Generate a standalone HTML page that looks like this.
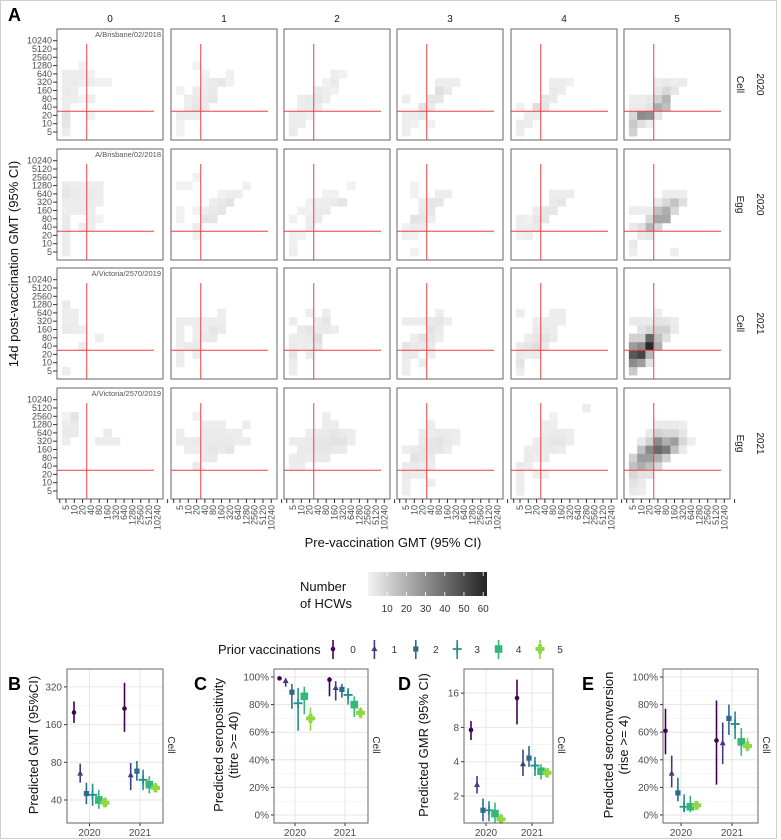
<!DOCTYPE html>
<html><head><meta charset="utf-8"><style>
html,body{margin:0;padding:0;background:#fff;}
svg{display:block;font-family:"Liberation Sans",sans-serif;}
</style></head><body>
<svg id="fig" width="781" height="840" viewBox="0 0 781 840" xmlns="http://www.w3.org/2000/svg">
<rect x="0.5" y="0.5" width="776" height="838" fill="#fff" stroke="#cfcfcf"/>
</svg>
<script>
// ===== Panel A data =====
const titreLabels = ["5","10","20","40","80","160","320","640","1280","2560","5120","10240"];
const colLabels = ["0","1","2","3","4","5"];
const rowTypes = ["Cell","Egg","Cell","Egg"];
const rowYears = ["2020","2020","2021","2021"];
const rowStrains = ["A/Brisbane/02/2018","A/Brisbane/02/2018","A/Victoria/2570/2019","A/Victoria/2570/2019"];
const legendTicks = [10,20,30,40,50,60];
// cells: [preIndex, postIndex, count]
const cellsR0 = [
 [[0,0,2],[0,1,4],[0,2,5],[0,3,2],[0,4,2],[0,5,3],[0,6,2],[0,7,2],[1,4,2],[1,5,2],[1,6,3],[1,7,2],[2,4,1],[2,6,2],[2,7,2],[2,8,1],[3,2,1],[3,4,2],[3,6,2],[3,7,1],[4,6,1],[5,6,1]],
 [[0,0,1],[0,1,1],[0,2,2],[1,2,2],[2,2,2],[1,3,2],[2,3,4],[3,3,3],[0,5,1],[1,4,2],[2,4,3],[3,4,3],[4,4,4],[2,5,2],[3,5,2],[4,5,3],[3,6,2],[4,6,3],[5,6,4],[6,6,1],[2,8,1],[6,7,1],[3,7,1]],
 [[0,0,3],[0,1,2],[1,1,2],[0,2,2],[1,2,2],[2,2,1],[1,3,2],[2,3,3],[3,3,2],[1,4,2],[2,4,3],[3,4,4],[4,4,2],[3,5,3],[4,5,2],[5,5,1],[4,6,1],[5,6,3],[5,7,2],[6,7,1]],
 [[0,0,2],[0,1,2],[1,1,1],[0,2,2],[1,2,2],[2,2,3],[2,3,5],[3,3,3],[0,4,2],[3,4,4],[4,4,4],[4,5,6],[5,5,3],[4,6,2],[5,6,2],[6,6,2],[3,1,1]],
 [[0,0,2],[0,1,3],[1,1,2],[1,2,2],[2,2,2],[2,3,6],[3,3,4],[0,3,1],[3,4,4],[4,4,3],[4,5,3],[5,5,2],[4,6,2],[5,6,2],[6,6,1]],
 [[0,0,10],[0,1,12],[1,1,6],[2,1,2],[0,2,8],[1,2,30],[2,2,28],[3,2,4],[0,3,3],[1,3,3],[2,3,5],[3,3,20],[4,3,15],[0,4,2],[1,4,2],[2,4,3],[3,4,10],[4,4,18],[3,5,4],[4,5,8],[5,5,4],[3,6,2],[4,6,3],[5,6,2],[6,6,3]]
];
const cellsR1 = [
 [[0,0,2],[0,1,2],[0,2,2],[0,3,3],[0,4,3],[0,5,2],[0,6,2],[0,7,4],[0,8,3],[1,5,2],[1,6,2],[1,7,3],[1,8,2],[2,5,2],[2,6,2],[2,7,2],[2,8,2],[3,3,2],[3,4,2],[3,5,2],[3,6,2],[3,7,3],[3,8,2],[4,6,2],[4,7,2],[4,8,2],[2,3,2],[4,4,1]],
 [[0,4,1],[0,5,1],[0,8,1],[1,8,1],[2,3,2],[2,2,1],[2,5,1],[3,4,5],[3,5,2],[4,4,4],[4,5,3],[4,6,2],[5,5,4],[5,6,3],[6,6,5],[6,7,2],[7,7,2],[5,7,1],[2,9,1],[8,8,1]],
 [[0,0,2],[0,1,1],[0,2,1],[1,2,1],[2,3,2],[0,4,1],[2,4,2],[3,4,3],[3,5,3],[4,5,3],[2,6,1],[3,6,2],[4,6,2],[5,6,3],[6,6,4],[4,7,1],[5,7,1],[7,8,1],[1,5,1],[2,5,1]],
 [[0,2,1],[1,2,1],[0,3,1],[1,3,2],[2,3,2],[1,4,5],[2,4,4],[3,4,2],[2,5,3],[3,5,4],[3,6,4],[4,6,4],[4,7,2],[5,7,2],[1,8,1],[2,6,2],[1,0,1],[1,7,1]],
 [[0,2,1],[0,3,2],[1,2,2],[1,3,2],[2,3,3],[2,4,4],[3,4,4],[3,5,4],[4,5,4],[4,6,3],[5,6,4],[4,7,2],[5,7,2],[6,7,2],[2,5,2],[0,4,2],[1,4,1]],
 [[0,0,2],[0,1,3],[1,2,3],[2,2,4],[2,3,18],[1,3,6],[0,3,3],[3,3,8],[3,4,22],[4,4,22],[2,4,8],[3,5,15],[4,5,20],[5,5,8],[4,6,8],[5,6,14],[6,6,6],[3,6,3],[4,7,2],[5,7,2],[6,7,2],[0,5,2],[1,5,2],[2,5,2],[5,0,2]]
];
const cellsR2 = [
 [[0,0,2],[0,5,3],[0,6,2],[0,7,2],[0,8,3],[1,5,2],[1,6,2],[1,7,2],[2,5,2],[2,3,2],[4,4,2]],
 [[0,1,2],[0,2,2],[0,3,2],[0,4,2],[0,5,2],[0,6,2],[1,3,3],[1,6,2],[2,2,2],[2,3,3],[2,4,2],[2,5,2],[2,6,2],[3,4,3],[3,5,2],[3,6,2],[4,4,3],[4,5,4],[5,5,3],[5,6,2],[5,7,2],[4,6,2]],
 [[0,0,2],[0,1,2],[0,2,4],[0,3,3],[0,4,2],[0,6,2],[1,3,2],[1,4,2],[1,5,3],[2,2,2],[2,3,2],[2,4,3],[2,5,4],[2,7,2],[3,3,4],[3,4,6],[3,5,3],[3,6,2],[4,5,3],[4,6,4],[5,5,2],[4,7,2]],
 [[0,1,2],[0,2,3],[1,2,3],[2,1,2],[0,3,4],[1,3,3],[2,3,3],[3,3,3],[2,4,5],[3,4,4],[1,4,2],[3,5,5],[4,5,3],[4,4,2],[0,6,2],[1,6,2],[2,6,2],[3,6,3],[4,6,4],[5,6,2],[4,7,2],[0,0,2],[3,2,2]],
 [[0,0,2],[0,1,5],[0,2,3],[1,2,2],[2,2,3],[0,3,3],[1,3,4],[2,3,6],[3,3,3],[1,4,2],[2,4,4],[3,4,5],[4,4,3],[2,5,3],[3,5,3],[4,5,2],[2,6,2],[3,6,2],[4,6,2],[5,6,2],[0,7,2],[4,7,2],[5,7,2]],
 [[0,0,12],[0,1,30],[1,1,25],[2,1,5],[0,2,45],[1,2,50],[2,2,18],[0,3,25],[1,3,30],[2,3,58],[3,3,20],[0,4,10],[1,4,10],[2,4,40],[3,4,15],[2,5,8],[3,5,10],[4,5,10],[0,6,3],[1,6,3],[2,6,3],[3,6,5],[4,6,4],[5,6,2],[3,7,2],[4,4,6],[1,5,5],[5,5,3]]
];
const cellsR3 = [
 [[0,7,3],[0,8,2],[0,6,2],[1,7,3],[1,8,3],[1,9,5],[0,9,1],[5,7,3],[4,6,2],[5,6,2],[6,6,2]],
 [[0,6,2],[0,7,2],[1,6,2],[1,5,2],[2,5,2],[2,3,3],[2,9,1],[2,6,3],[3,5,3],[3,6,3],[3,7,3],[3,8,2],[4,4,3],[4,5,4],[4,6,3],[4,7,3],[4,8,2],[5,5,3],[5,6,3],[5,7,3],[5,8,2],[6,5,4],[6,6,3],[6,7,2],[7,6,2],[7,7,2],[8,6,2],[8,8,2],[3,4,3]],
 [[0,3,2],[0,4,2],[0,6,2],[1,3,2],[1,4,3],[1,5,3],[1,6,2],[2,4,2],[2,5,3],[2,6,3],[3,4,3],[3,5,4],[3,6,4],[3,7,3],[4,4,3],[4,5,4],[4,6,4],[4,7,3],[4,8,2],[4,9,2],[5,5,3],[5,6,5],[5,7,4],[5,8,2],[6,5,3],[6,6,5],[6,7,3],[7,6,2],[7,7,2],[2,7,2]],
 [[0,0,2],[0,1,2],[0,2,3],[0,3,3],[1,2,2],[1,3,3],[1,4,5],[2,4,4],[2,5,4],[2,6,3],[1,5,3],[0,5,2],[3,3,2],[3,4,3],[3,5,4],[3,6,4],[3,7,2],[3,8,2],[4,5,4],[4,6,5],[4,7,3],[5,6,3],[5,7,3],[5,5,2],[6,6,2],[6,7,2],[2,7,2],[2,3,2],[2,2,2],[3,1,2]],
 [[0,0,2],[0,1,2],[0,2,2],[0,3,3],[1,3,2],[1,4,3],[2,4,2],[2,5,3],[1,5,2],[2,6,2],[2,2,2],[3,4,3],[3,5,3],[3,6,3],[3,7,2],[3,8,2],[4,5,3],[4,6,4],[4,7,3],[4,8,2],[5,5,2],[5,6,4],[5,7,3],[6,6,2],[6,7,2],[4,9,1],[8,10,2],[3,2,1]],
 [[0,0,3],[0,1,5],[0,2,8],[0,3,15],[0,4,10],[1,1,3],[1,2,5],[1,3,20],[1,4,25],[1,5,15],[2,2,5],[2,3,15],[2,4,25],[2,5,30],[2,6,10],[3,3,8],[3,4,20],[3,5,40],[3,6,30],[3,7,10],[4,4,10],[4,5,35],[4,6,20],[4,7,8],[5,5,15],[5,6,25],[5,7,8],[6,6,8],[6,7,4],[5,8,3],[3,8,3],[4,8,3],[6,5,3],[7,6,2],[6,8,2],[2,7,3],[1,6,3],[1,0,2]]
];
const allCells = [cellsR0, cellsR1, cellsR2, cellsR3];

// ===== Panels B-E data =====
const years = ["2020","2021"];
const groups = ["0","1","2","3","4","5"];
const gmtEst = [[200,65,45,44,40,38],[215,63,68,58,53,50]];
const gmtLo  = [[165,55,37,36,34,35],[140,48,57,48,45,46]];
const gmtHi  = [[245,78,55,54,48,42],[345,79,82,70,62,55]];
const seropEst = [[99,97,89,81,86,70],[98,92,91,87,80,74]];
const seropLo  = [[98,93,77,61,73,61],[86,83,85,80,71,70]];
const seropHi  = [[100,99,95,92,93,78],[100,97,95,92,86,78]];
const gmrEst = [[7.6,2.5,1.5,1.5,1.4,1.25],[14.5,3.8,4.3,3.7,3.3,3.2]];
const gmrLo  = [[6.2,2.1,1.2,1.2,1.15,1.15],[8.5,3.0,3.6,3.0,2.8,2.9]];
const gmrHi  = [[9.1,3.0,1.9,1.8,1.75,1.4],[21,5.1,5.5,4.4,3.8,3.5]];
const convEst = [[61,30,16,6,6,7],[54,52,70,66,53,50]];
const convLo  = [[44,20,10,2,2,4],[22,37,58,55,43,46]];
const convHi  = [[77,43,27,15,14,10],[83,67,80,75,63,56]];
const gmtTicks = [40,80,160,320];
const gmrTicks = [2,4,8,16];
const pctTicks = [0,20,40,60,80,100];

const NS = "http://www.w3.org/2000/svg";
const svg = document.getElementById("fig");
function mk(tag, attrs, parent, text){
  const e = document.createElementNS(NS, tag);
  for (const k in attrs) e.setAttribute(k, attrs[k]);
  if (text !== undefined) e.textContent = text;
  (parent || svg).appendChild(e);
  return e;
}
const colors = ["#440154","#443A83","#31688E","#21908C","#35B779","#8FD744"];
function shade(n){ const v = Math.round(Math.max(35, 244 - n*3.5)); return "rgb("+v+","+v+","+v+")"; }

// ===== Panel A =====
const panelLefts = [57,171,284,397,511,624];
const panelTops = [29,149,268,388];
const PW = 106, PH = 111, STEP = 8.3;
let t = mk("text",{x:8,y:21,"font-size":18,"font-weight":"bold"},svg,"A");


colLabels.forEach((c,ci)=>{
  const e = mk("text",{x:panelLefts[ci]+PW/2,y:22,"font-size":10,fill:"#1a1a1a","text-anchor":"middle"},svg,c);
  
  
});
for (let r=0;r<4;r++){
  const top = panelTops[r];
  const cy = top + PH/2;
  const s1 = mk("text",{x:0,y:0,"font-size":10,fill:"#1a1a1a","text-anchor":"middle",transform:"translate(737,"+cy+") rotate(90)"},svg,rowTypes[r]);
  
  
  const s2 = mk("text",{x:0,y:0,"font-size":10,fill:"#1a1a1a","text-anchor":"middle",transform:"translate(757,"+cy+") rotate(90)"},svg,rowYears[r]);
  
  
  for (let c=0;c<6;c++){
    const left = panelLefts[c];
    const g = mk("g",{},svg);
    
    
    const xOf = i => left + 9 + i*STEP;
    const yOf = i => top + 103 - i*STEP;
    allCells[r][c].forEach(cell=>{
      const rc = mk("rect",{x:xOf(cell[0])-STEP/2,y:yOf(cell[1])-STEP/2,width:STEP+0.3,height:STEP+0.3,fill:shade(cell[2])},g);
      
      
    });
    const th = 2.5;
    const vl = mk("line",{x1:xOf(th),x2:xOf(th),y1:yOf(10.6),y2:top+PH,stroke:"#f04040","stroke-width":1},g);
    
    
    const hl = mk("line",{x1:left,x2:xOf(10.6),y1:yOf(th),y2:yOf(th),stroke:"#f04040","stroke-width":1},g);
    
    
    const bd = mk("rect",{x:left,y:top,width:PW,height:PH,fill:"none",stroke:"#666","stroke-width":1},g);
    
    
    if (c===0){
      const st = mk("text",{x:left+PW-2,y:top+8,"font-size":7.5,fill:"#555","text-anchor":"end"},g,rowStrains[r]);
      
      
      titreLabels.forEach((lb,i)=>{
        mk("line",{x1:left-4,x2:left,y1:yOf(i),y2:yOf(i),stroke:"#333","stroke-width":1},g);
        const tl = mk("text",{x:left-5,y:yOf(i)+3,"font-size":9,fill:"#4d4d4d","text-anchor":"end"},g,lb);
        
        
      });
    }
    if (r===3){
      titreLabels.forEach((lb,i)=>{
        mk("line",{x1:xOf(i),x2:xOf(i),y1:top+PH,y2:top+PH+4,stroke:"#333","stroke-width":1},g);
        const tl = mk("text",{x:0,y:0,"font-size":9,fill:"#4d4d4d","text-anchor":"end",transform:"translate("+(xOf(i)+3)+","+(top+PH+6)+") rotate(-90)"},g,lb);
        
        
      });
      [-1,12].forEach(i=>mk("line",{x1:xOf(i)+2,x2:xOf(i)+2,y1:top+PH,y2:top+PH+4,stroke:"#333","stroke-width":1},g));
    }
  }
}
t = mk("text",{x:0,y:0,"font-size":13,fill:"#111","text-anchor":"middle",transform:"translate(18,264) rotate(-90)"},svg,"14d post-vaccination GMT (95% CI)");


t = mk("text",{x:393,y:547,"font-size":13,fill:"#111","text-anchor":"middle"},svg,"Pre-vaccination GMT (95% CI)");



// Color legend
t = mk("text",{x:300,y:591,"font-size":13,fill:"#111"},svg,"Number");


mk("text",{x:300,y:608,"font-size":13,fill:"#111"},svg,"of HCWs");
const defs = mk("defs",{},svg);
const lg = mk("linearGradient",{id:"gr",x1:"0",x2:"1",y1:"0",y2:"0"},defs);
mk("stop",{offset:"0","stop-color":shade(0)},lg);
mk("stop",{offset:"1","stop-color":shade(62)},lg);
const barX0 = 368, barW = 119, legMax = 62;
t = mk("rect",{x:barX0,y:572,width:barW,height:24,fill:"url(#gr)"},svg);


legendTicks.forEach(v=>{
  const x = barX0 + v/legMax*barW;
  mk("line",{x1:x,x2:x,y1:572,y2:576,stroke:"#fff","stroke-width":0.8},svg);
  mk("line",{x1:x,x2:x,y1:592,y2:596,stroke:"#fff","stroke-width":0.8},svg);
  const e = mk("text",{x:x,y:612,"font-size":10,fill:"#333","text-anchor":"middle"},svg,String(v));
  
  
});

// symbol drawing
function symbol(k, x, y, parent){
  const col = colors[k];
  if (k===0) return mk("circle",{cx:x,cy:y,r:2.3,fill:col},parent);
  if (k===1) return mk("polygon",{points:(x)+","+(y-3.5)+" "+(x-3)+","+(y+2)+" "+(x+3)+","+(y+2),fill:col},parent);
  if (k===2) return mk("rect",{x:x-2.6,y:y-2.6,width:5.2,height:5.2,fill:col},parent);
  if (k===3) return mk("path",{d:"M"+(x-4.5)+" "+y+"H"+(x+4.5)+"M"+x+" "+(y-4.5)+"V"+(y+4.5),stroke:col,"stroke-width":1.8},parent);
  if (k===4) return mk("rect",{x:x-3.8,y:y-3.8,width:7.6,height:7.6,fill:col},parent);
  return mk("path",{d:"M"+(x-2)+" "+(y-4.5)+"h4v2.5h2.5v4h-2.5v2.5h-4v-2.5h-2.5v-4h2.5z",fill:col},parent);
}

// Prior vaccination legend
t = mk("text",{x:218,y:654,"font-size":13,fill:"#111"},svg,"Prior vaccinations");


groups.forEach((gname,k)=>{
  const x = 333 + k*41.4;
  const g = mk("g",{},svg);
  
  
  mk("line",{x1:x,x2:x,y1:640,y2:659,stroke:colors[k],"stroke-width":1.6},g);
  symbol(k,x,649,g);
  mk("text",{x:x+20,y:653,"font-size":10,fill:"#333","text-anchor":"middle"},g,gname);
});

// Small panels
function smallPanel(opt){
  const g = mk("g",{},svg);
  
  
  const L=opt.left,R=opt.right,T=669,B=823;
  mk("rect",{x:L,y:T,width:R-L,height:B-T,fill:"#fff"},g);
  opt.ticks.forEach((v,i)=>{
    const y = opt.y(v);
    if (i<opt.ticks.length-1){
      const ym=(y+opt.y(opt.ticks[i+1]))/2;
      mk("line",{x1:L,x2:R,y1:ym,y2:ym,stroke:"#f2f2f2","stroke-width":0.6},g);
    }
    mk("line",{x1:L,x2:R,y1:y,y2:y,stroke:"#e6e6e6","stroke-width":1},g);
    mk("line",{x1:L-3,x2:L,y1:y,y2:y,stroke:"#333","stroke-width":1},g);
    const tl = mk("text",{x:L-5,y:y+3.5,"font-size":10,fill:"#4d4d4d","text-anchor":"end"},g,opt.fmt(v));
    
    
  });
  years.forEach((yr,yi)=>{
    const xc = opt.xYear[yi];
    mk("line",{x1:xc,x2:xc,y1:T,y2:B,stroke:"#e6e6e6","stroke-width":1},g);
    mk("line",{x1:xc,x2:xc,y1:B,y2:B+3,stroke:"#333","stroke-width":1},g);
    const tl = mk("text",{x:xc,y:B+13,"font-size":10,fill:"#4d4d4d","text-anchor":"middle"},g,yr);
    
    
    groups.forEach((gn,k)=>{
      const x = xc + (k-2.5)*opt.dodge;
      const eb = mk("line",{x1:x,x2:x,y1:opt.y(opt.hi[yi][k]),y2:opt.y(opt.lo[yi][k]),stroke:colors[k],"stroke-width":1.6},g);
      
      
      const p = symbol(k,x,opt.y(opt.est[yi][k]),g);
      
      
    });
  });
  mk("rect",{x:L,y:T,width:R-L,height:B-T,fill:"none",stroke:"#666","stroke-width":1},g);
  const st = mk("text",{x:0,y:0,"font-size":10,fill:"#333","text-anchor":"middle",transform:"translate("+(R+5)+",745) rotate(90)"},g,"Cell");
  
  
  const lt = mk("text",{x:opt.letterX,y:690,"font-size":18,"font-weight":"bold"},g,opt.letter);
  
  
  opt.title.forEach((line,i)=>{
    const tt = mk("text",{x:0,y:0,"font-size":13,fill:"#111","text-anchor":"middle",transform:"translate("+(opt.titleX+i*15)+",745) rotate(-90)"},g,line);
    
    
  });
}
const log2 = Math.log2;
smallPanel({name:"panel-b-gmt",letter:"B",letterX:8,left:67,right:163,xYear:[89.5,140],dodge:6.2,
  y:v=>800-37.7*log2(v/40),ticks:gmtTicks,fmt:v=>String(v),est:gmtEst,lo:gmtLo,hi:gmtHi,
  title:["Predicted GMT (95%CI)"],titleX:38});
smallPanel({name:"panel-c-seropositivity",letter:"C",letterX:194,left:274,right:368,xYear:[295,345],dodge:6.2,
  y:v=>815-1.38*v,ticks:pctTicks,fmt:v=>v+"%",est:seropEst,lo:seropLo,hi:seropHi,
  title:["Predicted seropositivity","(titre >= 40)"],titleX:223});
smallPanel({name:"panel-d-gmr",letter:"D",letterX:398,left:464,right:553,xYear:[486,532],dodge:6.0,
  y:v=>796-34.3*log2(v/2),ticks:gmrTicks,fmt:v=>String(v),est:gmrEst,lo:gmrLo,hi:gmrHi,
  title:["Predicted GMR (95% CI)"],titleX:428});
smallPanel({name:"panel-e-seroconversion",letter:"E",letterX:582,left:663,right:758,xYear:[681,732],dodge:6.2,
  y:v=>815-1.38*v,ticks:pctTicks,fmt:v=>v+"%",est:convEst,lo:convLo,hi:convHi,
  title:["Predicted seroconversion","(rise >= 4)"],titleX:613});
</script>
</body></html>
